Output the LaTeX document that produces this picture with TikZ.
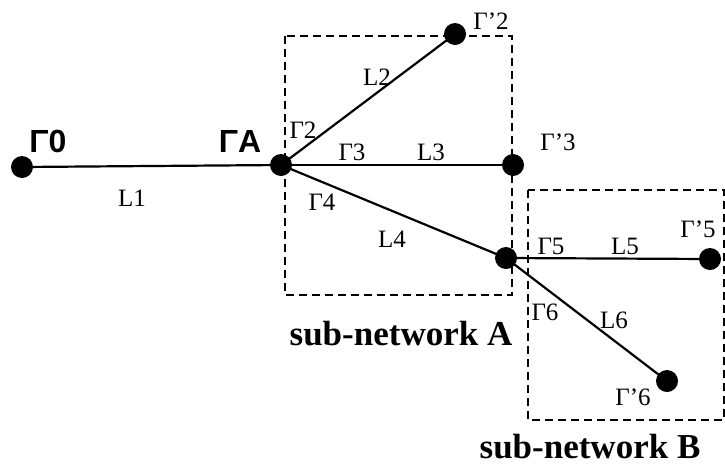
\documentclass[tikz,border=0pt]{standalone}
\usepackage{fontspec}
\setmainfont{Liberation Serif}
\newfontfamily\headfont{Liberation Sans}
\begin{document}
\begin{tikzpicture}[x=1pt,y=-1pt,
  bus/.style={circle,fill=black,inner sep=0pt,minimum size=22pt},
  branch/.style={draw=black,line width=2.2pt},
  subnet/.style={draw=black,line width=1.4pt,dash pattern=on 8pt off 5pt},
  lbl/.style={font=\fontsize{25}{25}\selectfont,inner sep=0pt},
  head/.style={font=\headfont\bfseries\fontsize{32}{32}\selectfont,inner sep=0pt},
  captxt/.style={font=\bfseries\fontsize{35}{35}\selectfont,inner sep=0pt}]
\useasboundingbox (0,0) rectangle (725,464);

% sub-network frames
\draw[subnet] (285,36) rectangle (512,295);
\draw[subnet] (528,190) rectangle (724,420);

% buses
\node[bus] (g0) at (22,167) {};
\node[bus] (gA) at (281,165) {};
\node[bus] (g2) at (455,34) {};
\node[bus] (g3) at (513,165) {};
\node[bus] (gJ) at (506,258) {};
\node[bus] (g5) at (710,259) {};
\node[bus] (g6) at (667,381) {};

% branches
\draw[branch] (g0.center) -- (gA.center);
\draw[branch] (gA.center) -- (g2.center);
\draw[branch] (gA.center) -- (g3.center);
\draw[branch] (gA.center) -- (gJ.center);
\draw[branch] (gJ.center) -- (g5.center);
\draw[branch] (gJ.center) -- (g6.center);

% bus names
\node[head] (t0) at (48,141) {Γ0};
\node[head] (tA) at (240,141) {ΓA};

% line and reflection labels
\node[lbl] (l1) at (132,198) {L1};
\node[lbl] (r2) at (303,130) {Γ2};
\node[lbl] (l2) at (377,77) {L2};
\node[lbl] (r2p) at (491,21) {Γ’2};
\node[lbl] (r3) at (352,152) {Γ3};
\node[lbl] (l3) at (431,152) {L3};
\node[lbl] (r3p) at (558,142) {Γ’3};
\node[lbl] (r4) at (322,202) {Γ4};
\node[lbl] (l4) at (392,239) {L4};
\node[lbl] (r5) at (551,246) {Γ5};
\node[lbl] (l5) at (625,246) {L5};
\node[lbl] (r5p) at (698,229) {Γ’5};
\node[lbl] (r6) at (545,312) {Γ6};
\node[lbl] (l6) at (614,320) {L6};
\node[lbl] (r6p) at (633,397) {Γ’6};

% frame captions
\node[captxt] (capA) at (401,334) {sub-network A};
\node[captxt] (capB) at (590,447) {sub-network B};
\end{tikzpicture}
\end{document}
